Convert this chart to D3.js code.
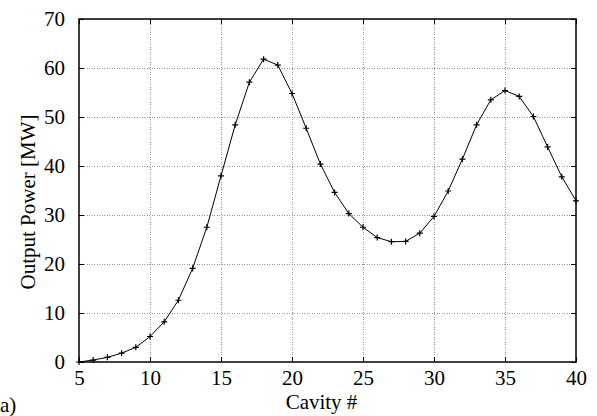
<!DOCTYPE html>
<html><head><meta charset="utf-8">
<script src="https://cdn.jsdelivr.net/npm/d3@7"></script>
<style>body{margin:0;background:#fff}svg{display:block}svg text{font-family:"Liberation Serif","Times New Roman",serif !important;fill:#000}</style>
</head><body>
<svg id="c" width="597" height="416"></svg>
<script>
const cavity = [5,6,7,8,9,10,11,12,13,14,15,16,17,18,19,20,21,22,23,24,25,26,27,28,29,30,31,32,33,34,35,36,37,38,39,40];
const power  = [0,0.4,0.95,1.8,3.0,5.2,8.2,12.6,19.1,27.5,38.0,48.4,57.1,61.8,60.6,54.8,47.7,40.4,34.6,30.3,27.5,25.4,24.55,24.6,26.3,29.7,34.9,41.4,48.4,53.5,55.4,54.2,50.1,43.9,37.8,32.9];
const xTicks = [5,10,15,20,25,30,35,40];
const yTicks = [0,10,20,30,40,50,60,70];
const xLabel = "Cavity #";
const yLabel = "Output Power [MW]";
const panelLabel = "a)";

const svg = d3.select("#c");
const L=79,R=576,T=19,B=362;
const FS = "21px";
const x = d3.scaleLinear().domain([5,40]).range([L,R]);
const y = d3.scaleLinear().domain([0,70]).range([B,T]);

// grid
const g = svg.append("g");
g.selectAll(".gx").data(xTicks.slice(1,-1)).enter().append("line")
  .attr("x1",d=>x(d)).attr("x2",d=>x(d)).attr("y1",T).attr("y2",B)
  .attr("stroke","#999").attr("stroke-width",1).attr("stroke-dasharray","1,1.5").attr("shape-rendering","crispEdges");
g.selectAll(".gy").data(yTicks.slice(1,-1)).enter().append("line")
  .attr("y1",d=>y(d)).attr("y2",d=>y(d)).attr("x1",L).attr("x2",R)
  .attr("stroke","#999").attr("stroke-width",1).attr("stroke-dasharray","1,1.5").attr("shape-rendering","crispEdges");

// axes
const ax = d3.axisBottom(x).tickValues(xTicks).tickSize(-5).tickPadding(8).tickFormat(d3.format("d"));
const ay = d3.axisLeft(y).tickValues(yTicks).tickSize(-5).tickPadding(14).tickFormat(d3.format("d"));
const axT = d3.axisTop(x).tickValues(xTicks).tickSize(-5).tickFormat("");
const ayR = d3.axisRight(y).tickValues(yTicks).tickSize(-5).tickFormat("");
function style(sel){
  sel.attr("font-family",null).attr("font-size",null);
  sel.select(".domain").remove();
  sel.selectAll("line").attr("stroke","#000");
  sel.selectAll("text").style("font-size",FS).style("font-family",'"Liberation Serif",serif');
}
svg.append("g").attr("transform",`translate(0,${B})`).call(ax).call(style);
svg.append("g").attr("transform",`translate(${L},0)`).call(ay).call(style);
svg.append("g").attr("transform",`translate(0,${T})`).call(axT).call(style);
svg.append("g").attr("transform",`translate(${R},0)`).call(ayR).call(style);

svg.append("rect").attr("x",L).attr("y",T).attr("width",R-L).attr("height",B-T)
  .attr("fill","none").attr("stroke","#000").attr("stroke-width",1.5);

// line
const line = d3.line().x((d,i)=>x(cavity[i])).y(d=>y(d));
svg.append("path").datum(power).attr("d",line).attr("fill","none").attr("stroke","#000").attr("stroke-width",1);

// markers
const m = svg.append("g");
power.forEach((p,i)=>{
  const cx=x(cavity[i]), cy=y(p);
  m.append("path").attr("d",`M${cx-3},${cy}H${cx+3}M${cx},${cy-3}V${cy+3}`).attr("stroke","#000").attr("stroke-width",1.2);
});

// labels
svg.append("text").attr("x",(L+R)/2-6).attr("y",409).attr("text-anchor","middle").style("font-size",FS).text(xLabel);
svg.append("text").attr("transform",`translate(35,202) rotate(-90)`).attr("text-anchor","middle").style("font-size",FS).text(yLabel);
svg.append("text").attr("x",0).attr("y",412).style("font-size",FS).text(panelLabel);
</script>
</body></html>
